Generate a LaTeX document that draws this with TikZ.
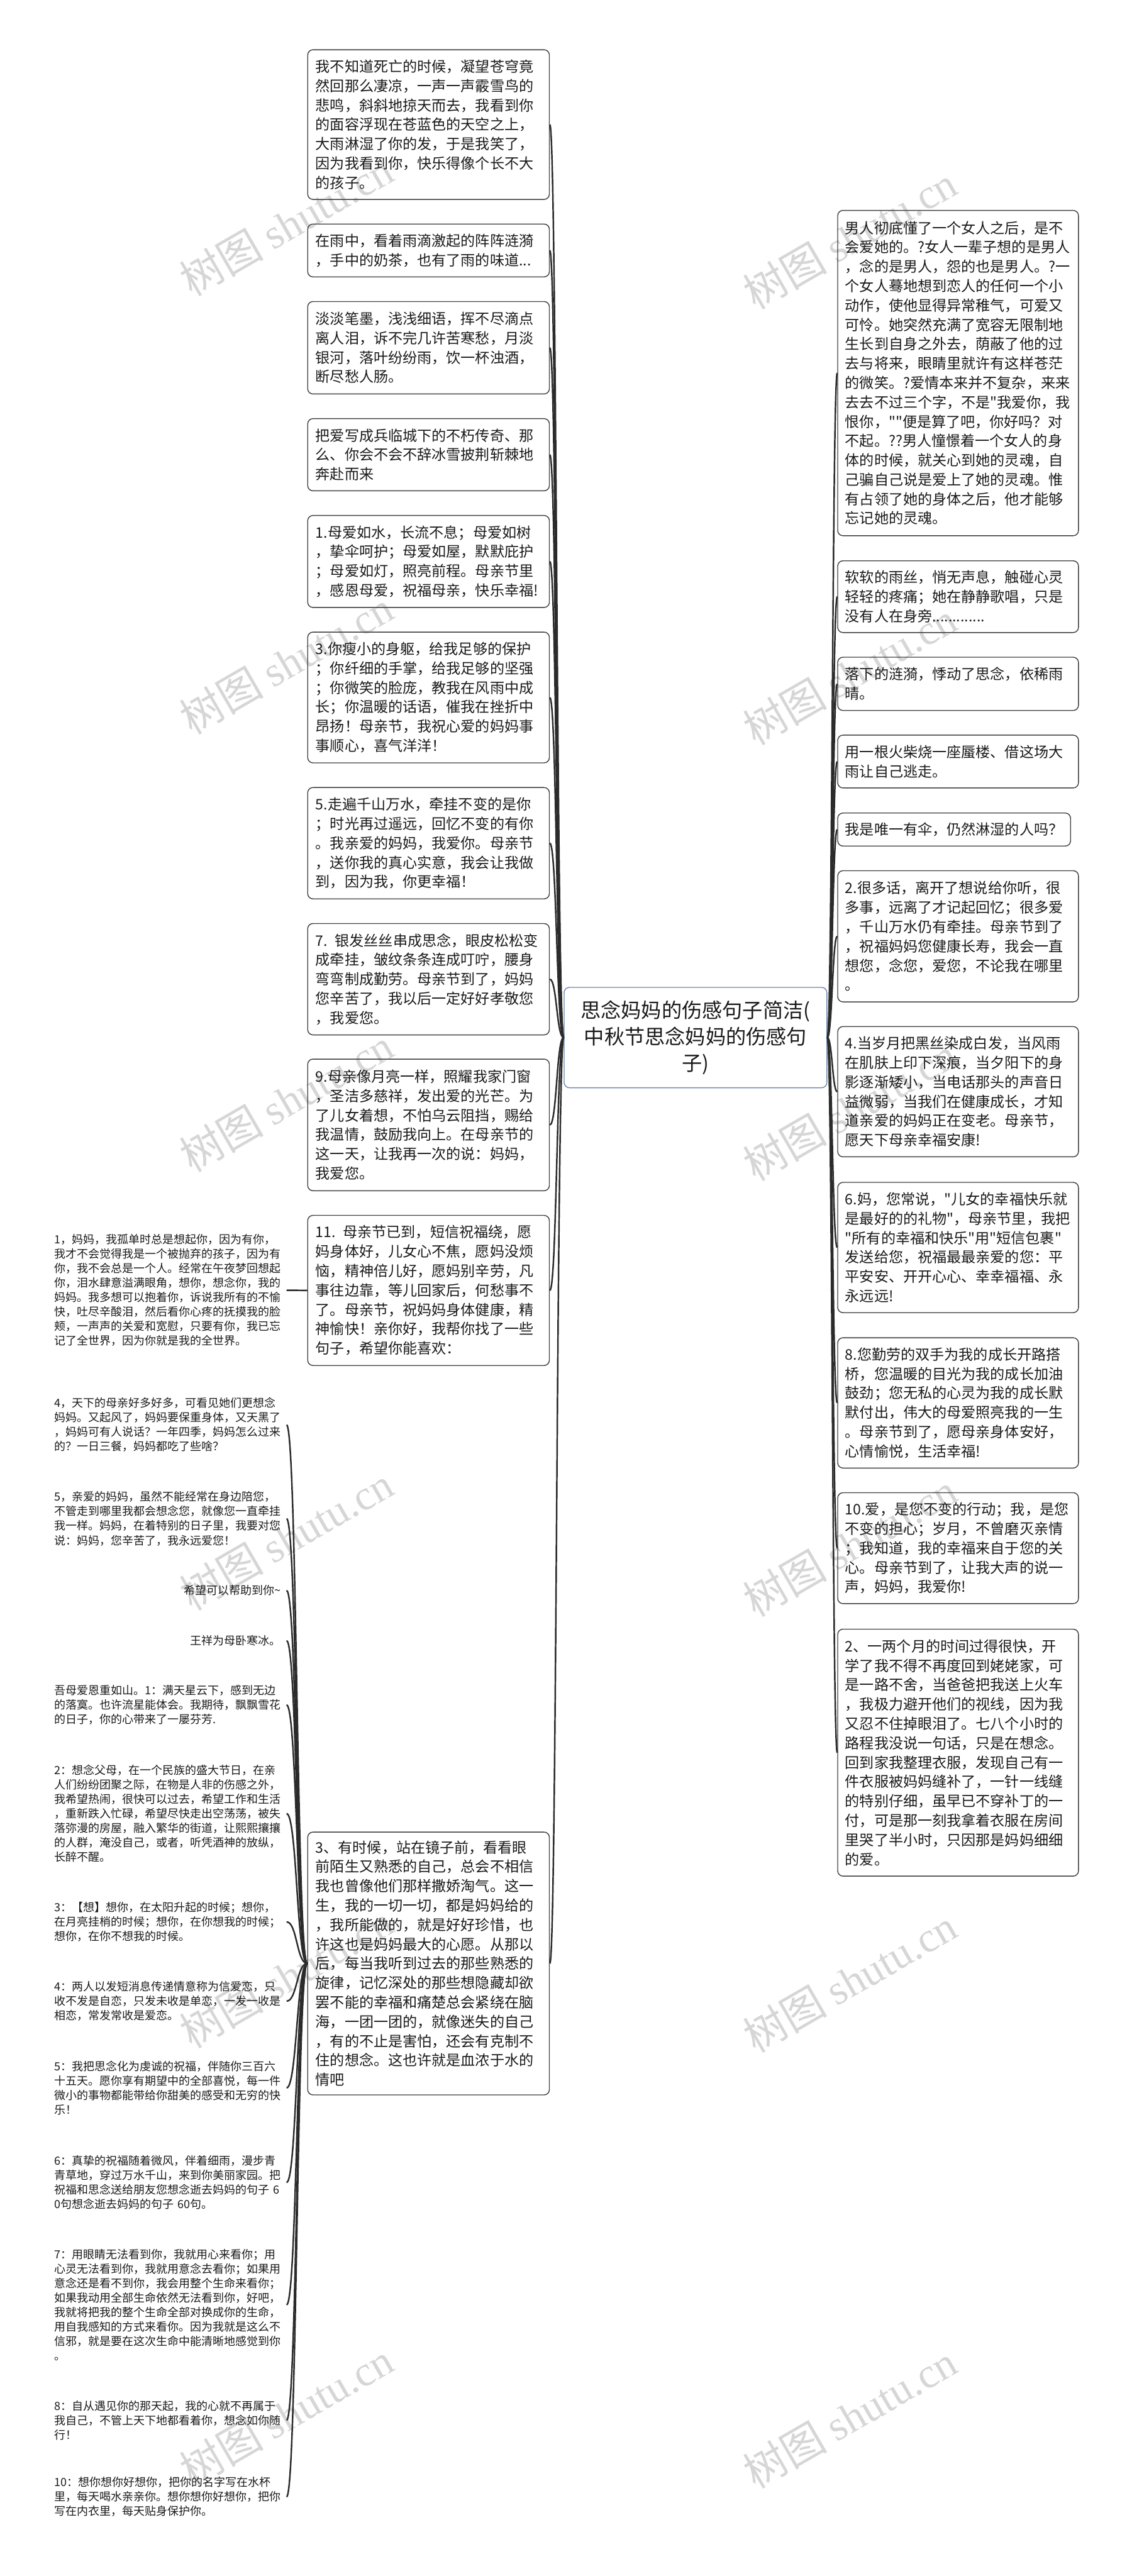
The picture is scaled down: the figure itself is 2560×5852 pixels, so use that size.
\documentclass[tikz,border=0pt]{standalone}
\usepackage{fontspec}
\setmainfont{Noto Sans CJK SC}
\newfontfamily\cjk{Noto Sans CJK SC}
\newfontfamily\wmfont{Liberation Serif}
\definecolor{txt}{HTML}{1A1A1A}
\definecolor{boxc}{HTML}{404040}
\definecolor{linec}{HTML}{2B2B2B}
\definecolor{wmc}{HTML}{D6D6D6}
\definecolor{cbc}{HTML}{6A86B0}
\tikzset{
  box/.style={draw=boxc, line width=1pt, rounded corners=6pt, align=left, inner ysep=0pt,
    font=\cjk\fontsize{16.5pt}{22pt}\selectfont, text=txt, anchor=north west},
  lbox/.style={box, text width=256.5pt, inner xsep=9pt, minimum width=274.5pt},
  rbox/.style={box, text width=256.5pt, inner xsep=8.5pt, minimum width=273.5pt},
  item/.style={align=left, text width=257pt, inner xsep=6.5pt, inner ysep=0pt,
    font=\cjk\fontsize{12.85pt}{16.45pt}\selectfont, anchor=east, text=txt},
  ritem/.style={item, align=right},
  link/.style={draw=linec, line width=1.75pt},
  wm/.style={text=wmc, rotate=30, font=\cjk\fontsize{48pt}{48pt}\selectfont, inner sep=0pt}
}
\begin{document}
\begin{tikzpicture}[x=0.5pt, y=-0.5pt]
\useasboundingbox (0,0) rectangle (2560,5852);
% watermarks
\foreach \k in {0,...,5}{
  \node[wm] (wl\k) at (650,{510+995*\k}) {树图 {\wmfont shutu.cn}};
  \node[wm] (wr\k) at (1930,{540+990*\k}) {树图 {\wmfont shutu.cn}};
}
% center
\node[draw=cbc, line width=1pt, rounded corners=6pt, fill=white, align=center, text=txt,
  minimum width=298.5pt, minimum height=114pt, inner sep=0pt,
  font=\cjk\fontsize{23pt}{30pt}\selectfont] (C) at (1580,2357)
  {思念妈妈的伤感句子简洁(\\中秋节思念妈妈的伤感句\\子)};
% left boxes
\node[lbox, minimum height=170pt] (L1) at (698,112) {我不知道死亡的时候，凝望苍穹竟\\然回那么凄凉，一声一声霰雪鸟的\\悲鸣，斜斜地掠天而去，我看到你\\的面容浮现在苍蓝色的天空之上，\\大雨淋湿了你的发，于是我笑了，\\因为我看到你，快乐得像个长不大\\的孩子。};
\node[lbox, minimum height=60pt] (L2) at (698,508) {在雨中，看着雨滴激起的阵阵涟漪\\，手中的奶茶，也有了雨的味道...};
\node[lbox, minimum height=105pt] (L3) at (698,684) {淡淡笔墨，浅浅细语，挥不尽滴点\\离人泪，诉不完几许苦寒愁，月淡\\银河，落叶纷纷雨，饮一杯浊酒，\\断尽愁人肠。};
\node[lbox, minimum height=82pt] (L4) at (698,950) {把爱写成兵临城下的不朽传奇、那\\么、你会不会不辞冰雪披荆斩棘地\\奔赴而来};
\node[lbox, minimum height=104.5pt] (L5) at (698,1170) {1.母爱如水，长流不息；母爱如树\\，挚伞呵护；母爱如屋，默默庇护\\；母爱如灯，照亮前程。母亲节里\\，感恩母爱，祝福母亲，快乐幸福!};
\node[lbox, minimum height=148.5pt] (L6) at (698,1435) {3.你瘦小的身躯，给我足够的保护\\；你纤细的手掌，给我足够的坚强\\；你微笑的脸庞，教我在风雨中成\\长；你温暖的话语，催我在挫折中\\昂扬！母亲节，我祝心爱的妈妈事\\事顺心，喜气洋洋！};
\node[lbox, minimum height=126.5pt] (L7) at (698,1788) {5.走遍千山万水，牵挂不变的是你\\；时光再过遥远，回忆不变的有你\\。我亲爱的妈妈，我爱你。母亲节\\，送你我的真心实意，我会让我做\\到，因为我，你更幸福！};
\node[lbox, minimum height=126.5pt] (L8) at (698,2097) {7. 银发丝丝串成思念，眼皮松松变\\成牵挂，皱纹条条连成叮咛，腰身\\弯弯制成勤劳。母亲节到了，妈妈\\您辛苦了，我以后一定好好孝敬您\\，我爱您。};
\node[lbox, minimum height=149.5pt] (L9) at (698,2405) {9.母亲像月亮一样，照耀我家门窗\\，圣洁多慈祥，发出爱的光芒。为\\了儿女着想，不怕乌云阻挡，赐给\\我温情，鼓励我向上。在母亲节的\\这一天，让我再一次的说：妈妈，\\我爱您。};
\node[lbox, minimum height=170.5pt] (L10) at (698,2760) {11. 母亲节已到，短信祝福绕，愿\\妈身体好，儿女心不焦，愿妈没烦\\恼，精神倍儿好，愿妈别辛劳，凡\\事往边靠，等儿回家后，何愁事不\\了。母亲节，祝妈妈身体健康，精\\神愉快！亲你好，我帮你找了一些\\句子，希望你能喜欢：};
\node[lbox, minimum height=298.5pt] (L11) at (698,4161) {3、有时候，站在镜子前，看看眼\\前陌生又熟悉的自己，总会不相信\\我也曾像他们那样撒娇淘气。这一\\生，我的一切一切，都是妈妈给的\\，我所能做的，就是好好珍惜，也\\许这也是妈妈最大的心愿。从那以\\后，每当我听到过去的那些熟悉的\\旋律，记忆深处的那些想隐藏却欲\\罢不能的幸福和痛楚总会紧绕在脑\\海，一团一团的，就像迷失的自己\\，有的不止是害怕，还会有克制不\\住的想念。这也许就是血浓于水的\\情吧};
% right boxes
\node[rbox, minimum height=369.5pt] (R1) at (1902,477) {男人彻底懂了一个女人之后，是不\\会爱她的。?女人一辈子想的是男人\\，念的是男人，怨的也是男人。?一\\个女人蓦地想到恋人的任何一个小\\动作，使他显得异常稚气，可爱又\\可怜。她突然充满了宽容无限制地\\生长到自身之外去，荫蔽了他的过\\去与将来，眼睛里就许有这样苍茫\\的微笑。?爱情本来并不复杂，来来\\去去不过三个字，不是"我爱你，我\\恨你，""便是算了吧，你好吗？对\\不起。??男人憧憬着一个女人的身\\体的时候，就关心到她的灵魂，自\\己骗自己说是爱上了她的灵魂。惟\\有占领了她的身体之后，他才能够\\忘记她的灵魂。};
\node[rbox, minimum height=81.5pt] (R2) at (1902,1273) {软软的雨丝，悄无声息，触碰心灵\\轻轻的疼痛；她在静静歌唱，只是\\没有人在身旁.............};
\node[rbox, minimum height=60.5pt] (R3) at (1902,1492) {落下的涟漪，悸动了思念，依稀雨\\晴。};
\node[rbox, minimum height=60pt] (R4) at (1902,1669) {用一根火柴烧一座蜃楼、借这场大\\雨让自己逃走。};
\node[box, text width=247.5pt, inner xsep=8.5pt, minimum width=264.5pt, minimum height=37.5pt] (R5) at (1902,1846) {我是唯一有伞，仍然淋湿的人吗？};
\node[rbox, minimum height=149pt] (R6) at (1902,1977) {2.很多话，离开了想说给你听，很\\多事，远离了才记起回忆；很多爱\\，千山万水仍有牵挂。母亲节到了\\，祝福妈妈您健康长寿，我会一直\\想您，念您，爱您，不论我在哪里\\。};
\node[rbox, minimum height=148pt] (R7) at (1902,2331) {4.当岁月把黑丝染成白发，当风雨\\在肌肤上印下深痕，当夕阳下的身\\影逐渐矮小，当电话那头的声音日\\益微弱，当我们在健康成长，才知\\道亲爱的妈妈正在变老。母亲节，\\愿天下母亲幸福安康!};
\node[rbox, minimum height=148pt] (R8) at (1902,2685) {6.妈，您常说，"儿女的幸福快乐就\\是最好的的礼物"，母亲节里，我把\\"所有的幸福和快乐"用"短信包裹"\\发送给您，祝福最最亲爱的您：平\\平安安、开开心心、幸幸福福、永\\永远远!};
\node[rbox, minimum height=148pt] (R9) at (1902,3038) {8.您勤劳的双手为我的成长开路搭\\桥，您温暖的目光为我的成长加油\\鼓劲；您无私的心灵为我的成长默\\默付出，伟大的母爱照亮我的一生\\。母亲节到了，愿母亲身体安好，\\心情愉悦，生活幸福!};
\node[rbox, minimum height=126pt] (R10) at (1902,3390) {10.爱，是您不变的行动；我，是您\\不变的担心；岁月，不曾磨灭亲情\\；我知道，我的幸福来自于您的关\\心。母亲节到了，让我大声的说一\\声，妈妈，我爱你!};
\node[rbox, minimum height=280.5pt] (R11) at (1902,3700) {2、一两个月的时间过得很快，开\\学了我不得不再度回到姥姥家，可\\是一路不舍，当爸爸把我送上火车\\，我极力避开他们的视线，因为我\\又忍不住掉眼泪了。七八个小时的\\路程我没说一句话，只是在想念。\\回到家我整理衣服，发现自己有一\\件衣服被妈妈缝补了，一针一线缝\\的特别仔细，虽早已不穿补丁的一\\付，可是那一刻我拿着衣服在房间\\里哭了半小时，只因那是妈妈细细\\的爱。};
% left items
\node[item] (I1) at (651,2931) {1，妈妈，我孤单时总是想起你，因为有你，\\我才不会觉得我是一个被抛弃的孩子，因为有\\你，我不会总是一个人。经常在午夜梦回想起\\你，泪水肆意溢满眼角，想你，想念你，我的\\妈妈。我多想可以抱着你，诉说我所有的不愉\\快，吐尽辛酸泪，然后看你心疼的抚摸我的脸\\颊，一声声的关爱和宽慰，只要有你，我已忘\\记了全世界，因为你就是我的全世界。};
\node[item] (I2) at (651,3237) {4，天下的母亲好多好多，可看见她们更想念\\妈妈。又起风了，妈妈要保重身体，又天黑了\\，妈妈可有人说话？一年四季，妈妈怎么过来\\的？一日三餐，妈妈都吃了些啥？};
\node[item] (I3) at (651,3450) {5，亲爱的妈妈，虽然不能经常在身边陪您，\\不管走到哪里我都会想念您，就像您一直牵挂\\我一样。妈妈，在着特别的日子里，我要对您\\说：妈妈，您辛苦了，我永远爱您！};
\node[ritem] (I4) at (651,3613) {希望可以帮助到你\textasciitilde};
\node[ritem] (I5) at (651,3727) {王祥为母卧寒冰。};
\node[item] (I6) at (651,3873) {吾母爱恩重如山。1：满天星云下，感到无边\\的落寞。也许流星能体会。我期待，飘飘雪花\\的日子，你的心带来了一屡芬芳.};
\node[item] (I7) at (651,4120) {2：想念父母，在一个民族的盛大节日，在亲\\人们纷纷团聚之际，在物是人非的伤感之外，\\我希望热闹，很快可以过去，希望工作和生活\\，重新跌入忙碌，希望尽快走出空荡荡，被失\\落弥漫的房屋，融入繁华的街道，让熙熙攘攘\\的人群，淹没自己，或者，听凭酒神的放纵，\\长醉不醒。};
\node[item] (I8) at (651,4366) {3：【想】想你，在太阳升起的时候；想你，\\在月亮挂梢的时候；想你，在你想我的时候；\\想你，在你不想我的时候。};
\node[item] (I9) at (651,4546) {4：两人以发短消息传递情意称为信爱恋，只\\收不发是自恋，只发未收是单恋，一发一收是\\相恋，常发常收是爱恋。};
\node[item] (I10) at (651,4743) {5：我把思念化为虔诚的祝福，伴随你三百六\\十五天。愿你享有期望中的全部喜悦，每一件\\微小的事物都能带给你甜美的感受和无穷的快\\乐！};
\node[item] (I11) at (651,4958) {6：真挚的祝福随着微风，伴着细雨，漫步青\\青草地，穿过万水千山，来到你美丽家园。把\\祝福和思念送给朋友您想念逝去妈妈的句子 6\\0句想念逝去妈妈的句子 60句。};
\node[item] (I12) at (651,5236) {7：用眼睛无法看到你，我就用心来看你；用\\心灵无法看到你，我就用意念去看你；如果用\\意念还是看不到你，我会用整个生命来看你；\\如果我动用全部生命依然无法看到你，好吧，\\我就将把我的整个生命全部对换成你的生命，\\用自我感知的方式来看你。因为我就是这么不\\信邪，就是要在这次生命中能清晰地感觉到你\\。};
\node[item] (I13) at (651,5498) {8：自从遇见你的那天起，我的心就不再属于\\我自己，不管上天下地都看着你，想念如你随\\行！};
\node[item] (I14) at (651,5672) {10：想你想你好想你，把你的名字写在水杯\\里，每天喝水亲亲你。想你想你好想你，把你\\写在内衣里，每天贴身保护你。};
% connectors center -> left
\foreach \n in {L1,L2,L3,L4,L5,L6,L7,L8,L9,L10,L11}{
  \draw[link] (C.west) .. controls +(-16,0) and +(16,0) .. (\n.east);
}
\foreach \n in {R1,R2,R3,R4,R5,R6,R7,R8,R9,R10,R11}{
  \draw[link] (C.east) .. controls +(11,0) and +(-11,0) .. (\n.west);
}
\draw[link] (L10.west) -- (I1.east);
\foreach \n in {I2,I3,I4,I5,I6,I7,I8,I9,I10,I11,I12,I13,I14}{
  \draw[link] (L11.west) .. controls +(-24,0) and +(24,0) .. (\n.east);
}
\end{tikzpicture}
\end{document}
